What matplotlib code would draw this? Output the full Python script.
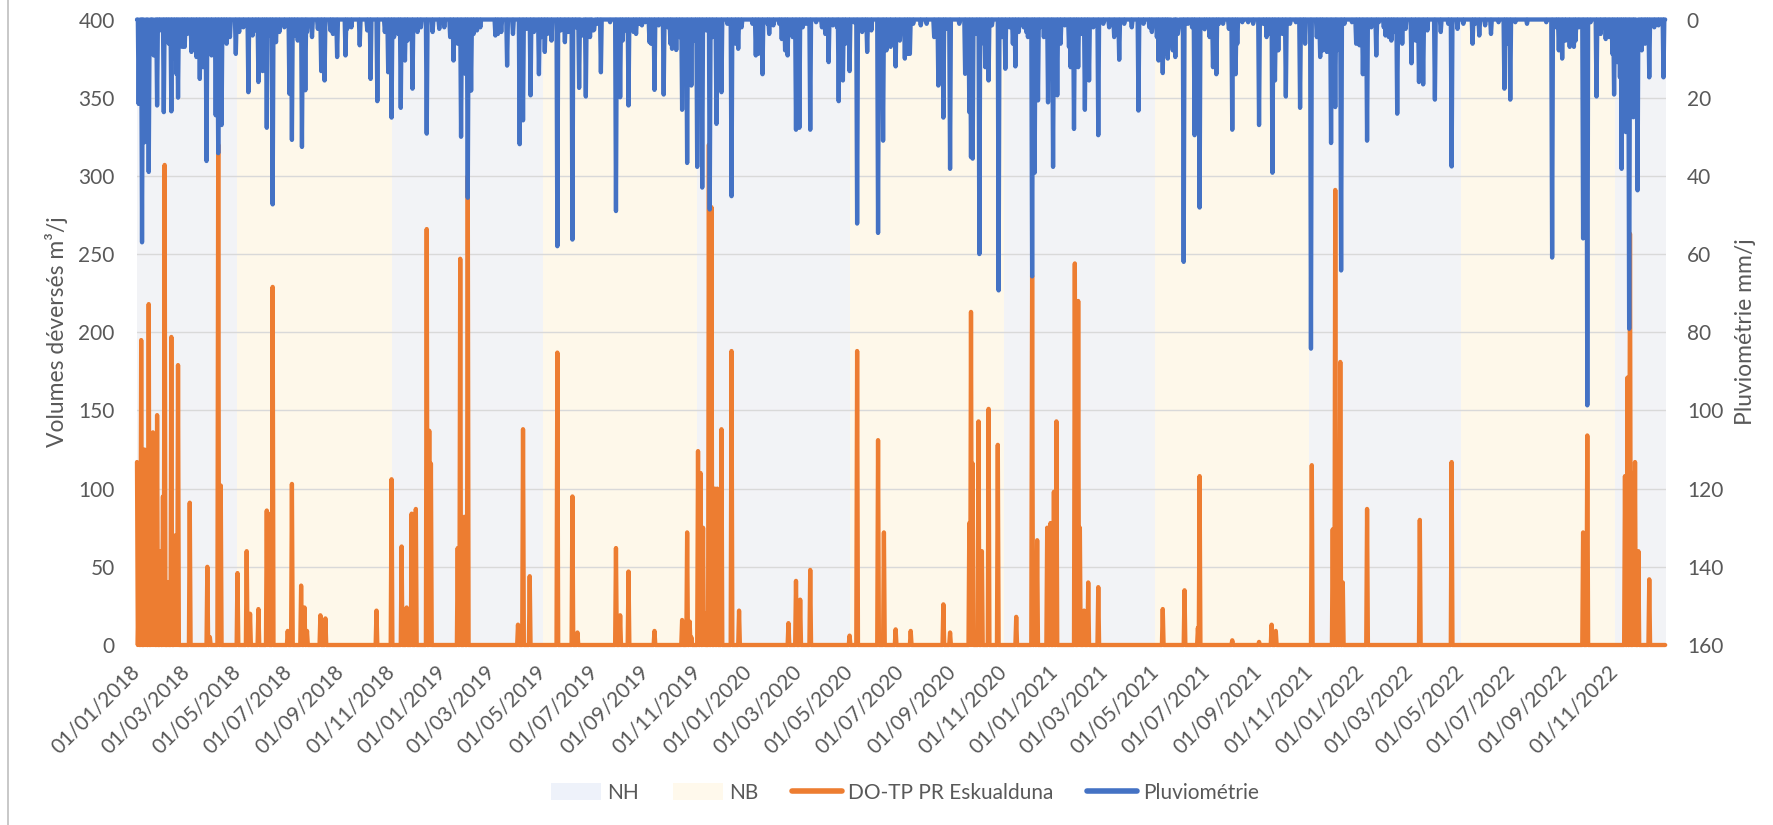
import matplotlib
matplotlib.use('Agg')
import matplotlib.pyplot as plt
from matplotlib.patches import Patch
from matplotlib.lines import Line2D
import pandas as pd

plt.rcParams['font.family'] = ['Lato', 'DejaVu Sans']

# jours = nombre de jours depuis le 01/01/2018
do_jour = [0, 2, 5, 9, 11, 14, 17, 19, 21, 24, 28, 31, 33, 37, 41, 45, 47, 49, 63, 84,
           87, 97, 100, 120, 131, 135, 145, 155, 157, 162, 180, 185, 196, 200, 203, 219, 225, 286, 304, 316,
           322, 328, 333, 346, 349, 351, 383, 386, 391, 395, 455, 461, 469, 502, 520, 526,
           572, 577, 587, 618, 651, 657, 660, 662, 670, 673, 676, 678, 683, 686, 690, 693, 698, 710, 719, 778,
           787, 792, 804, 851, 860, 885, 892, 906, 924, 963, 971, 994, 996, 998, 1005, 1009, 1017, 1028, 1050, 1069,
           1072, 1075, 1087, 1091, 1095, 1098, 1120, 1124, 1126, 1131, 1136, 1148, 1225,
           1251, 1267, 1269, 1308, 1340, 1355, 1360, 1403, 1428, 1431, 1434, 1437, 1440, 1469, 1532, 1570, 1727, 1732, 1777, 1780,
           1783, 1787, 1789, 1793, 1806]
do_m3 = [117, 30, 195, 125, 60, 218, 40, 136, 120, 147, 60, 95, 307, 40, 197, 70, 45, 179, 91, 50,
         5, 320, 102, 46, 60, 20, 23, 86, 84, 229, 9, 103, 38, 24, 9, 19, 17, 22, 106, 63,
         24, 84, 87, 266, 137, 116, 62, 247, 82, 300, 13, 138, 44, 187, 95, 8,
         62, 19, 47, 9, 16, 72, 15, 5, 124, 110, 75, 20, 320, 280, 100, 100, 138, 188, 22, 14,
         41, 29, 48, 6, 188, 131, 72, 10, 9, 26, 8, 78, 213, 116, 143, 60, 151, 128, 18, 236,
         10, 67, 75, 78, 98, 143, 244, 220, 75, 22, 40, 37, 23,
         35, 11, 108, 3, 2, 13, 9, 115, 74, 291, 90, 181, 40, 87, 80, 117, 72, 134, 108, 171,
         263, 110, 117, 60, 42]

# fortes pluies (mm/j)
pluie_jour = [2, 3, 6, 9, 14, 17, 20, 24, 32, 35, 41, 45, 49, 57, 65, 75, 83, 89, 94, 97,
              101, 118, 133, 145, 150, 155, 162, 166, 182, 185, 197, 201, 220, 224, 239, 249, 266, 279, 287, 300,
              304, 315, 320, 329, 346, 361, 378, 387, 392, 395, 399, 406, 431, 442, 457, 461, 470, 480, 487, 502,
              511, 520, 528, 536, 546, 554, 572, 577, 587, 596, 603, 612, 618, 629, 639, 644, 651, 657, 662, 669,
              675, 684, 692, 698, 710, 718, 739, 747, 755, 770, 777, 787, 791, 804, 826, 838, 843, 851, 860, 872,
              885, 891, 906, 917, 923, 957, 963, 971, 994, 996, 998, 1006, 1013, 1017, 1029, 1037, 1049, 1062, 1069, 1072,
              1076, 1088, 1094, 1099, 1113, 1119, 1124, 1132, 1137, 1148, 1173, 1196, 1212, 1225, 1231,
              1240, 1250, 1263, 1269, 1275, 1285, 1289, 1308, 1312, 1340, 1349, 1356, 1359, 1372, 1389, 1395, 1402, 1413, 1421, 1426,
              1431, 1438, 1456, 1464, 1469, 1480, 1491, 1498, 1505, 1511, 1522, 1531, 1536, 1550, 1557, 1570, 1595, 1603, 1617, 1633,
              1640, 1690, 1702, 1711, 1718, 1727, 1732, 1743, 1754, 1764, 1768, 1773, 1778, 1782, 1787, 1792, 1797, 1806, 1823]
pluie_mm = [21.6, 1.5, 57, 31.4, 39, 7.5, 9.2, 22, 23.7, 3.7, 23.5, 10, 20, 7, 8.3, 15.2, 36.2, 9.2, 24.5, 34.2,
            27, 8.8, 18.6, 16, 13.2, 27.7, 47.3, 5.8, 19, 30.8, 32.6, 18.1, 13.2, 15.6, 9.6, 9.2, 6.6, 15.2, 20.9, 13.5,
            25.1, 22.6, 10.5, 17.7, 29.2, 2.4, 10.5, 30, 13.9, 45.6, 18.2, 2.8, 3.7, 11.8, 31.9, 25.8, 19.4, 14, 8.3, 58,
            5.8, 56.3, 17.5, 19.7, 2.6, 13.5, 49, 19.9, 22, 3.7, 1.5, 5.8, 18, 19.2, 7.5, 7.8, 23.1, 36.7, 16.9, 37.7,
            43, 48.6, 26.7, 18.6, 45.2, 7.5, 9.2, 14, 3.7, 5, 9.2, 28.2, 27.7, 28.2, 10.9, 20.9, 15.6, 13.2, 52.2, 8.3,
            54.6, 31, 12, 10, 8.8, 16.9, 25.1, 38.2, 23.7, 35.2, 35.6, 60, 12.2, 15.6, 69.3, 12.6, 12, 3.2, 65.7, 39.2,
            20.7, 21.2, 37.7, 19.4, 7, 28, 12.2, 23.1, 15.6, 29.6, 10.3, 23.3, 3.2, 13.7, 10,
            9.6, 62, 29.6, 48.1, 2.5, 12.2, 14, 28.2, 14, 27, 4.5, 39.2, 15.6, 19.7, 22.6, 6.2, 84.2, 9.6, 8.3, 31.6,
            22.4, 64.2, 6.2, 14, 31, 9.2, 4.1, 5.4, 24.1, 6.2, 11.2, 16, 16.6, 20.5, 3.2, 37.6, 6.2, 4.1, 3.7, 17.7,
            20.5, 60.9, 10, 7, 5.4, 56, 98.7, 19.7, 5, 19.2, 10.9, 38.2, 28.8, 79.1, 25, 43.7, 7.9, 14.8, 14.8]

# petites pluies (mm/j)
faible_jour = [10, 15, 21, 27, 38, 47, 54, 60, 67, 71, 79, 85, 104, 107, 111, 122, 127, 138, 142, 152,
               159, 170, 176, 188, 192, 203, 209, 216, 231, 234, 251, 256, 275, 296, 307, 312, 323, 335, 339, 353,
               367, 374, 383, 402, 410, 428, 435, 449, 465, 474, 483, 490, 495, 506, 515, 524, 531, 541, 545,
               532, 543, 550, 565, 580, 584, 593, 600, 607, 614, 623, 634, 637, 648, 667, 672, 680, 687, 705, 715,
               722, 735, 742, 753, 760, 767, 774, 783, 795, 799, 811, 818, 822, 831, 836, 846, 856, 866, 870, 877,
               895, 900, 911, 920, 927, 936, 943, 952, 959, 966, 982, 989, 1003, 1008, 1015, 1021, 1033, 1042, 1046, 1053,
               1059, 1064, 1078, 1083, 1092, 1103, 1108, 1115, 1122, 1128, 1135, 1142, 1154, 1161, 1167, 1179, 1188, 1202, 1209, 1218,
               1220, 1228, 1236, 1243, 1237, 1244, 1255, 1260, 1277, 1281, 1292, 1297, 1304, 1314, 1320, 1327, 1333, 1345, 1352, 1363,
               1368, 1377, 1384, 1393, 1409, 1416, 1433, 1442, 1451, 1460, 1474, 1483, 1489, 1495, 1501, 1515, 1527, 1541, 1566, 1577,
               1584, 1598, 1610, 1626, 1636, 1646, 1660, 1683, 1695, 1698, 1706, 1716, 1722, 1736, 1748, 1752, 1758, 1762, 1771, 1775,
               1789, 1791, 1801, 1804, 1812, 1817, 1820]
faible_mm = [2.0, 4.5, 7.9, 2.8, 6.2, 13.9, 7.0, 3.7, 5.4, 9.6, 12.2, 4.5, 3.7, 6.2, 4.5, 3.2, 2.0, 4.1, 2.8, 5.4,
             4.1, 3.2, 2.0, 4.1, 5.4, 3.2, 4.5, 2.4, 2.8, 3.7, 2.4, 2.0, 2.8, 3.2, 4.5, 3.7, 5.4, 3.2, 2.0, 3.2,
             2.0, 4.5, 6.2, 3.7, 2.0, 4.1, 3.2, 3.7, 2.4, 3.2, 4.5, 3.7, 5.4, 2.8, 3.2, 2.0, 3.7, 4.5, 2.8,
             4.1, 2.4, 1.1, 0.7, 5.4, 2.8, 3.2, 1.1, 0.7, 6.2, 1.5, 2.0, 6.2, 4.5, 5.4, 3.7, 2.8, 4.5, 1.1, 6.2,
             2.0, 1.1, 8.8, 1.1, 1.5, 1.1, 7.9, 4.5, 2.0, 1.1, 0.7, 2.0, 3.7, 1.5, 2.0, 6.2, 0.7, 3.2, 1.1, 2.8,
             7.9, 7.0, 5.4, 8.8, 1.1, 1.5, 1.1, 4.5, 8.8, 2.4, 1.1, 13.9, 3.7, 6.2, 10.5, 1.5, 4.5, 2.0, 6.2, 3.2,
             2.0, 4.5, 2.0, 4.5, 11.3, 6.2, 1.5, 12.2, 6.2, 3.7, 7.0, 2.0, 1.1, 2.0, 4.5, 1.1, 2.0, 1.1, 2.0, 4.5,
             10.5, 8.8, 4.5, 3.7, 7.9, 2.0, 1.1, 2.0, 1.5, 4.5, 1.1, 1.1, 2.4, 6.2, 0.7, 0.7, 1.1, 1.1, 3.7, 7.9,
             3.7, 1.1, 0.7, 1.1, 4.5, 7.9, 7.9, 1.1, 0.7, 6.6, 2.0, 0.7, 2.0, 4.5, 3.2, 2.4, 5.4, 2.8, 1.1, 2.4,
             1.1, 1.1, 1.5, 0.7, 6.2, 0.7, 1.1, 0.7, 2.0, 7.9, 5.4, 7.0, 2.0, 0.7, 3.7, 1.1, 4.5, 8.8, 14.8, 12.2,
             2.0, 7.0, 6.2, 3.2, 2.0, 1.5, 0.7]

# périodes de nappes hautes (NH) et nappes basses (NB)
nh_debut = ['2018-01-01', '2018-11-01', '2019-11-01', '2020-11-01', '2021-11-01', '2022-11-01']
nh_fin = ['2018-05-01', '2019-05-01', '2020-05-01', '2021-05-01', '2022-05-01', '2023-01-01']
nb_debut = ['2018-05-01', '2019-05-01', '2020-05-01', '2021-05-01', '2022-05-01']
nb_fin = ['2018-11-01', '2019-11-01', '2020-11-01', '2021-11-01', '2022-11-01']

jours = pd.date_range('2018-01-01', '2022-12-31', freq='D')
volumes = pd.Series(0.0, index=jours)
volumes.iloc[do_jour] = do_m3
pluie = pd.Series(0.0, index=jours)
pluie.iloc[faible_jour] = faible_mm
pluie.iloc[pluie_jour] = pluie_mm

gris_txt = '#595959'
c_nh = '#F2F3F6'
c_nb = '#FEF8EA'
c_do = '#ED7D31'
c_pluie = '#4472C4'

fig = plt.figure(figsize=(17.74, 8.25), dpi=100)
ax = fig.add_axes([137 / 1774, 1 - 645 / 825, (1666 - 137) / 1774, (645 - 19.5) / 825])
ax2 = ax.twinx()

for d, f in zip(nh_debut, nh_fin):
    ax.axvspan(pd.Timestamp(d), pd.Timestamp(f), color=c_nh, lw=0, zorder=0)
for d, f in zip(nb_debut, nb_fin):
    ax.axvspan(pd.Timestamp(d), pd.Timestamp(f), color=c_nb, lw=0, zorder=0)

ax.plot(volumes.index, volumes.values, color=c_do, lw=3.1, solid_joinstyle='round',
        solid_capstyle='round', clip_on=False, zorder=3)
ax2.plot(pluie.index, pluie.values, color=c_pluie, lw=3.1, solid_joinstyle='round',
         solid_capstyle='round', clip_on=False, zorder=3)

ax.set_ylim(0, 400)
ax.set_yticks(range(0, 401, 50))
ax2.set_ylim(160, 0)
ax2.set_yticks(range(0, 161, 20))
ax.set_xlim(pd.Timestamp('2018-01-01'), pd.Timestamp('2023-01-01'))

ax.set_axisbelow(True)
ax.grid(axis='y', color='#D9D9D9', lw=1.0)
ax.grid(axis='x', visible=False)

ticks = pd.date_range('2018-01-01', '2022-11-01', freq='2MS')
ax.set_xticks(ticks)
ax.set_xticklabels([t.strftime('%d/%m/%Y') for t in ticks], rotation=45, ha='right',
                   rotation_mode='anchor', va='center')

for a in (ax, ax2):
    for s in a.spines.values():
        s.set_visible(False)
ax.tick_params(axis='x', length=0, pad=17, labelsize=15, labelcolor=gris_txt)
ax.tick_params(axis='y', length=0, pad=16, labelsize=15, labelcolor=gris_txt)
ax2.tick_params(axis='y', length=0, pad=15, labelsize=15, labelcolor=gris_txt)

fig.text(57 / 1774, 1 - 332 / 825, 'Volumes déversés m³/j', rotation=90, ha='center',
         va='center', fontsize=16.5, color=gris_txt)
fig.text(1746 / 1774, 1 - 332 / 825, 'Pluviométrie mm/j', rotation=90, ha='center',
         va='center', fontsize=16.5, color=gris_txt)

handles = [Patch(facecolor='#EEF2FA', edgecolor='none', label='NH'),
           Patch(facecolor='#FFF9EC', edgecolor='none', label='NB'),
           Line2D([], [], color=c_do, lw=4, solid_capstyle='round', label='DO-TP PR Eskualduna'),
           Line2D([], [], color=c_pluie, lw=4, solid_capstyle='round', label='Pluviométrie')]
leg = fig.legend(handles=handles, loc='center', bbox_to_anchor=(905 / 1774, 1 - 793 / 825),
                 ncol=4, frameon=False, fontsize=15, handlelength=2.4, handleheight=0.9,
                 handletextpad=0.3, columnspacing=1.6)
for t in leg.get_texts():
    t.set_color(gris_txt)

fig.add_artist(Line2D([8 / 1774, 8 / 1774], [0, 1], color='#BFBFBF', lw=1.2))

fig.savefig('out.png', dpi=100)
